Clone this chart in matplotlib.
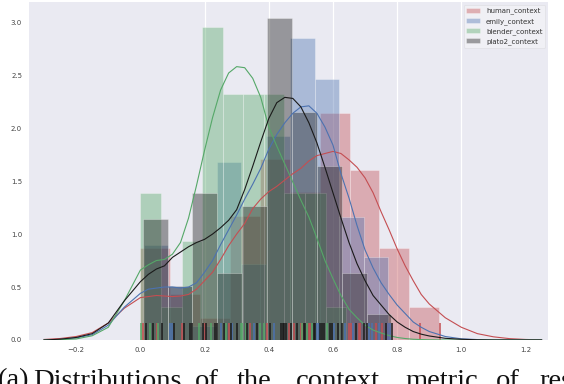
import numpy as np
import matplotlib
matplotlib.use("Agg")
import matplotlib.pyplot as plt

# ---------------- data ----------------
labels = ["human_context", "emily_context", "blender_context", "plato2_context"]
colors = ["#C44E52", "#4C72B0", "#55A868", "#1A1A1A"]

# histogram (density) : first edge, bin width, heights
hist_start = [0.0, 0.010, 0.0, 0.0072]
hist_width = [0.0931, 0.0762, 0.0641, 0.0775]
hist_human = [0.87, 0.43, 0.21, 1.17, 1.71, 1.40, 2.14, 1.60, 0.87, 0.31]
hist_emily = [0.90, 0.51, 0.13, 1.68, 0.72, 1.93, 2.85, 2.46, 1.16, 0.78]
hist_blender = [1.39, 0.31, 0.93, 2.95, 2.32, 2.32, 2.32, 1.39, 1.39, 0.31]
hist_plato2 = [1.14, 0.51, 1.39, 0.635, 1.26, 3.04, 2.15, 1.64, 0.635, 0.25]

# KDE curves
kde_x = [-0.30, -0.25, -0.20, -0.15, -0.10, -0.05, 0.0, 0.025, 0.05, 0.075, 0.10,
         0.125, 0.15, 0.175, 0.20, 0.225, 0.25, 0.275, 0.30, 0.325, 0.35, 0.375,
         0.40, 0.425, 0.45, 0.475, 0.50, 0.525, 0.55, 0.575, 0.60, 0.625, 0.65,
         0.675, 0.70, 0.725, 0.75, 0.775, 0.80, 0.825, 0.85, 0.875, 0.90, 0.95,
         1.00, 1.05, 1.10, 1.15, 1.20, 1.25]
kde_human = [0.005, 0.014, 0.033, 0.07, 0.16, 0.30, 0.40, 0.41, 0.42, 0.415, 0.41,
             0.415, 0.43, 0.48, 0.56, 0.64, 0.76, 0.89, 1.00, 1.10, 1.24, 1.33,
             1.40, 1.45, 1.51, 1.57, 1.62, 1.69, 1.74, 1.76, 1.78, 1.76, 1.70,
             1.63, 1.53, 1.39, 1.21, 1.04, 0.86, 0.70, 0.56, 0.43, 0.34, 0.21,
             0.12, 0.06, 0.03, 0.013, 0.005, 0.001]
kde_emily = [0.0, 0.005, 0.02, 0.05, 0.14, 0.31, 0.44, 0.48, 0.49, 0.50, 0.50,
             0.49, 0.50, 0.54, 0.64, 0.75, 0.90, 1.04, 1.18, 1.33, 1.47, 1.62,
             1.80, 1.94, 2.05, 2.14, 2.20, 2.21, 2.14, 2.01, 1.84, 1.57, 1.34,
             1.08, 0.85, 0.68, 0.54, 0.43, 0.33, 0.25, 0.17, 0.12, 0.08, 0.033,
             0.011, 0.004, 0.0, 0.0, 0.0, 0.0]
kde_blender = [0.0, 0.003, 0.01, 0.04, 0.12, 0.37, 0.66, 0.71, 0.75, 0.76, 0.81,
               0.92, 1.15, 1.46, 1.79, 2.10, 2.36, 2.52, 2.58, 2.57, 2.47, 2.29,
               2.01, 1.83, 1.66, 1.49, 1.32, 1.16, 0.96, 0.75, 0.58, 0.42, 0.29,
               0.21, 0.14, 0.094, 0.066, 0.042, 0.024, 0.014, 0.007, 0.004, 0.002, 0.0,
               0.0, 0.0, 0.0, 0.0, 0.0, 0.0]
kde_plato2 = [0.0, 0.008, 0.024, 0.06, 0.16, 0.37, 0.55, 0.62, 0.67, 0.70, 0.78,
              0.83, 0.88, 0.92, 0.95, 1.00, 1.06, 1.13, 1.23, 1.42, 1.64, 1.87,
              2.09, 2.24, 2.29, 2.28, 2.20, 2.05, 1.86, 1.63, 1.39, 1.15, 0.92,
              0.72, 0.56, 0.42, 0.33, 0.24, 0.17, 0.12, 0.08, 0.055, 0.038, 0.016,
              0.007, 0.002, 0.0, 0.0, 0.0, 0.0]

# rug positions (visible ticks)
rug_human = [0.009, 0.051, 0.131, 0.201, 0.276, 0.343, 0.395, 0.462, 0.478, 0.499,
             0.504, 0.524, 0.528, 0.649, 0.656, 0.680, 0.685, 0.735, 0.753, 0.773,
             0.870, 0.932]
rug_emily = [0.091, 0.097, 0.250, 0.286, 0.353, 0.416, 0.551, 0.556, 0.604, 0.639,
             0.664, 0.711, 0.722, 0.744, 0.772, 0.779]
rug_blender = [0.001, 0.030, 0.056, 0.182, 0.219, 0.268, 0.312, 0.317, 0.328, 0.374,
               0.384, 0.504, 0.519, 0.535, 0.582]
rug_plato2 = [0.016, 0.039, 0.068, 0.105, 0.136, 0.156, 0.162, 0.196, 0.206, 0.234,
              0.240, 0.260, 0.281, 0.302, 0.333, 0.364, 0.405, 0.437, 0.443, 0.449,
              0.455, 0.470, 0.488, 0.511, 0.514, 0.542, 0.545, 0.559, 0.566, 0.573,
              0.590, 0.597, 0.615, 0.628, 0.673, 0.696, 0.706, 0.766, 0.784]

hists = [hist_human, hist_emily, hist_blender, hist_plato2]
kdes = [kde_human, kde_emily, kde_blender, kde_plato2]
rugs = [rug_human, rug_emily, rug_blender, rug_plato2]

# ---------------- figure ----------------
fig = plt.figure(figsize=(5.64, 3.84), dpi=100)
ax = fig.add_axes([29 / 564, (384 - 340) / 384, 519 / 564, 338 / 384])
ax.set_facecolor("#EAEAF2")
for s in ax.spines.values():
    s.set_visible(False)

for i in range(4):
    h = np.array(hists[i])
    edges = hist_start[i] + hist_width[i] * np.arange(len(h))
    ax.bar(edges, h, width=hist_width[i], align="edge", color=colors[i],
           alpha=0.4, edgecolor="white", linewidth=0.5, label=labels[i], zorder=2)
    ax.plot(kde_x, kdes[i], color=colors[i], lw=0.8, zorder=3)
    ax.vlines(rugs[i], 0, 0.05, transform=ax.get_xaxis_transform(),
              color=colors[i], lw=1.1, zorder=3)

ax.set_xlim(-0.347, 1.27)
ax.set_ylim(0, 3.19)
ax.set_xticks([-0.2, 0.0, 0.2, 0.4, 0.6, 0.8, 1.0, 1.2])
ax.set_yticks([0.0, 0.5, 1.0, 1.5, 2.0, 2.5, 3.0])
ax.tick_params(length=0, labelsize=5, labelcolor="#444444", pad=5)
ax.grid(axis="x", color="white", lw=0.9, zorder=1)
ax.set_axisbelow(True)
for t, gl in zip(ax.get_xticks(), ax.get_xgridlines()):
    if t < 0.1 or t > 1.1:
        gl.set_visible(False)

leg = ax.legend(loc="upper right", fontsize=5, frameon=True, borderaxespad=0.4,
                facecolor="white", edgecolor="#C8C8C8", framealpha=0.3)
leg.get_frame().set_linewidth(0.6)
for t in leg.get_texts():
    t.set_color("#333333")

# caption (partially cut at the bottom of the image, as in the reference)
cap_words = ["(a)", "Distributions", "of", "the", "context", "metric", "of", "responses"]
cap_x = [-2, 33, 195, 237, 296, 405, 496, 539]
for w, xp in zip(cap_words, cap_x):
    fig.text(xp / 564, (384 - 387.5) / 384, w, fontsize=20.5,
             family="Liberation Serif", va="baseline", ha="left", color="#111111")

fig.savefig("out.png", dpi=100)
